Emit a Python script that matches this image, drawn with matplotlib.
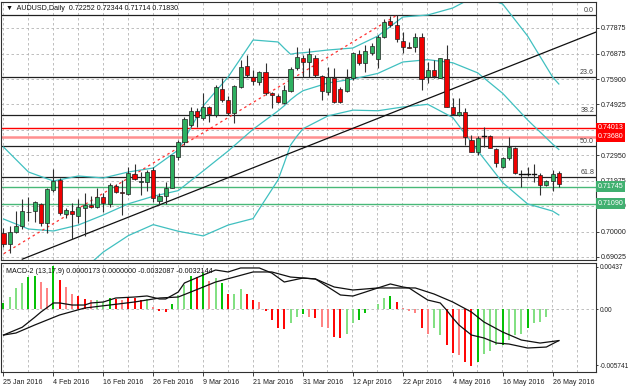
import matplotlib
matplotlib.use('Agg')
import matplotlib.pyplot as plt
import numpy as np
import pandas as pd

plt.rcParams['font.family'] = ['Liberation Sans', 'DejaVu Sans']

# AUDUSD daily bars, 25 Jan 2016 .. 27 May 2016
dates = pd.bdate_range('2016-01-25', periods=90)
opens = [0.6996, 0.6953, 0.6999, 0.7022, 0.7078, 0.7080, 0.7106, 0.7035, 0.7161, 0.7200,
         0.7067, 0.7081, 0.7061, 0.7091, 0.7103, 0.7097, 0.7136, 0.7106, 0.7177, 0.7152,
         0.7145, 0.7222, 0.7194, 0.7194, 0.7239, 0.7120, 0.7138, 0.7170, 0.7290, 0.7346,
         0.7413, 0.7468, 0.7438, 0.7483, 0.7451, 0.7551, 0.7509, 0.7460, 0.7561, 0.7640,
         0.7597, 0.7580, 0.7616, 0.7535, 0.7525, 0.7499, 0.7544, 0.7632, 0.7673, 0.7657,
         0.7670, 0.7602, 0.7541, 0.7595, 0.7553, 0.7545, 0.7593, 0.7687, 0.7653, 0.7692,
         0.7666, 0.7751, 0.7814, 0.7799, 0.7738, 0.7715, 0.7713, 0.7751, 0.7597, 0.7625,
         0.7593, 0.7666, 0.7483, 0.7451, 0.7464, 0.7355, 0.7309, 0.7370, 0.7370, 0.7319,
         0.7251, 0.7286, 0.7323, 0.7226, 0.7223, 0.7226, 0.7219, 0.7181, 0.7196, 0.72252]
highs = [0.7015, 0.7022, 0.7080, 0.7125, 0.7134, 0.7120, 0.7110, 0.7168, 0.7241, 0.7207,
         0.7091, 0.7111, 0.7128, 0.7149, 0.7138, 0.7168, 0.7149, 0.7187, 0.7185, 0.7200,
         0.7249, 0.7261, 0.7232, 0.7239, 0.7251, 0.7149, 0.7193, 0.7297, 0.7355, 0.7445,
         0.7483, 0.7477, 0.7535, 0.7486, 0.7567, 0.7593, 0.7525, 0.7567, 0.7664, 0.7683,
         0.7625, 0.7622, 0.7651, 0.7541, 0.7532, 0.7567, 0.7638, 0.7713, 0.7683, 0.7709,
         0.7683, 0.7606, 0.7638, 0.7632, 0.7561, 0.7628, 0.7696, 0.7702, 0.7722, 0.7728,
         0.7760, 0.7821, 0.7834, 0.7836, 0.7773, 0.7732, 0.7767, 0.7767, 0.7657, 0.7664,
         0.7673, 0.7722, 0.7516, 0.7516, 0.7477, 0.7374, 0.7370, 0.7404, 0.7374, 0.7323,
         0.7290, 0.7367, 0.7329, 0.7239, 0.7251, 0.7262, 0.7226, 0.7200, 0.7239, 0.72344]
lows = [0.6942, 0.6918, 0.6995, 0.7010, 0.7043, 0.7039, 0.7022, 0.6996, 0.7155, 0.7064,
        0.7054, 0.6972, 0.7033, 0.6984, 0.7092, 0.7092, 0.7078, 0.7097, 0.7150, 0.7065,
        0.7142, 0.7200, 0.7142, 0.7159, 0.7116, 0.7103, 0.7107, 0.7168, 0.7277, 0.7335,
        0.7406, 0.7406, 0.7432, 0.7425, 0.7445, 0.7503, 0.7451, 0.7421, 0.7554, 0.7599,
        0.7567, 0.7567, 0.7528, 0.7477, 0.7499, 0.7494, 0.7541, 0.7625, 0.7599, 0.7599,
        0.7599, 0.7509, 0.7528, 0.7496, 0.7499, 0.7541, 0.7586, 0.7644, 0.7619, 0.7683,
        0.7632, 0.7749, 0.7790, 0.7733, 0.7692, 0.7709, 0.7696, 0.7548, 0.7576, 0.7595,
        0.7593, 0.7481, 0.7450, 0.7447, 0.7335, 0.7308, 0.7297, 0.7329, 0.7323, 0.7251,
        0.7245, 0.7277, 0.7223, 0.7174, 0.7215, 0.7193, 0.7142, 0.7177, 0.7159, 0.71714]
closes = [0.6953, 0.6999, 0.7022, 0.7081, 0.7076, 0.7114, 0.7033, 0.7165, 0.7195, 0.7071,
          0.7084, 0.7069, 0.7097, 0.7103, 0.7097, 0.7133, 0.7110, 0.7181, 0.7155, 0.7149,
          0.7226, 0.7203, 0.7196, 0.7232, 0.7129, 0.7138, 0.7170, 0.7297, 0.7348, 0.7435,
          0.7468, 0.7442, 0.7483, 0.7454, 0.7561, 0.7509, 0.7460, 0.7563, 0.7638, 0.7606,
          0.7584, 0.7616, 0.7535, 0.7527, 0.7503, 0.7548, 0.7630, 0.7676, 0.7657, 0.7686,
          0.7606, 0.7545, 0.7599, 0.7503, 0.7503, 0.7593, 0.7690, 0.7651, 0.7700, 0.7718,
          0.7751, 0.7812, 0.7799, 0.7744, 0.7715, 0.7709, 0.7751, 0.7589, 0.7625, 0.7603,
          0.7670, 0.7483, 0.7454, 0.7464, 0.7367, 0.7309, 0.7361, 0.7369, 0.7323, 0.7267,
          0.7286, 0.7326, 0.7226, 0.7225, 0.7222, 0.7225, 0.7181, 0.7196, 0.7223, 0.71830]

# Bollinger bands (20, 2)
bb_bars = [0, 4, 8, 12, 16, 20, 24, 28, 32, 36, 40, 44, 45, 46, 47, 48, 52, 56, 60, 64, 68, 72, 76,
           80, 84, 88, 89]
bb_upper = [0.73275, 0.72309, 0.71962, 0.72155, 0.72078, 0.72309, 0.72464, 0.73159, 0.74860, 0.75980,
            0.77410, 0.77334, 0.77090, 0.76860, 0.76901, 0.76916, 0.77023, 0.77101, 0.77564, 0.78299,
            0.78376, 0.78646, 0.79149, 0.78801, 0.77564, 0.75980, 0.75710]
bb_mid = [0.70493, 0.70107, 0.70030, 0.70261, 0.70648, 0.7108, 0.7137, 0.7159, 0.7235, 0.7312,
          0.7396, 0.7467, 0.7487, 0.7510, 0.7529, 0.7545, 0.7575, 0.7590, 0.7612, 0.7656,
          0.7665, 0.7653, 0.7614, 0.7535, 0.7432, 0.7339, 0.7318]
bb_lower = [0.67711, 0.67905, 0.68098, 0.68367, 0.69218, 0.69851, 0.70276, 0.70021, 0.6984, 0.7026,
            0.7051, 0.72004, 0.72658, 0.73348, 0.73685, 0.73980, 0.74477, 0.74699, 0.74676, 0.74821,
            0.74924, 0.74414, 0.73131, 0.71899, 0.71076, 0.7080, 0.7065]

# fibonacci swing (low 15 Jan, high 21 Apr)
fib_low, fib_high = 0.6827, 0.7836
fib_low_bar, fib_high_bar = -6, 63
fib_pcts = [0.0, 23.6, 38.2, 50.0, 61.8]

# trend line anchors (bar, price)
trend_bars = [3, 95]
trend_prices = [0.6894, 0.7772]

red_levels = [0.74013, 0.73680]
green_levels = [0.71745, 0.71090]
price_ticks = [0.77875, 0.76875, 0.75900, 0.74925, 0.73950, 0.72950, 0.71975, 0.71000, 0.70000, 0.69025]
hidden_ticks = [0.73950]  # sits under the red level labels

# MACD-2 (13,17,9)
hist = [0.0006, 0.0013, 0.00215, 0.0027, 0.0033, 0.0034, 0.0028, 0.0022, 0.0044, 0.0030,
        0.0023, 0.0016, 0.0014, 0.0011, 0.0010, 0.0010, 0.0007, 0.0012, 0.0011, 0.0010,
        0.0013, 0.0012, 0.0010, 0.0011, 0.0002, -0.0002, -0.0003, 0.0005, 0.0015, 0.0025,
        0.0034, 0.0033, 0.0037, 0.0029, 0.0032, 0.0027, 0.0016, 0.0016, 0.0021, 0.0016,
        0.0010, 0.0008, -0.0002, -0.0011, -0.0019, -0.0020, -0.0014, -0.0008, -0.0005, -0.0008,
        -0.0009, -0.0018, -0.0019, -0.0028, -0.0029, -0.0025, -0.0014, -0.0011, -0.0004, 0.0000,
        0.0005, 0.0012, 0.0014, 0.0007, 0.0001, -0.0002, -0.0004, -0.0019, -0.0025, -0.0019,
        -0.0026, -0.0037, -0.0045, -0.0047, -0.0054, -0.0058, -0.0054, -0.0046, -0.0043, -0.0037,
        -0.0037, -0.0031, -0.0026, -0.0025, -0.0019, -0.0014, -0.0013, -0.0008, 0.00005, 0.0000173]
hist_col = 'GgggGGrrGRrrRRrggGRrRRRgrRRGggGRGrgGRggRRrRRRRggGrRrrRRggGGgggGRrrrRrggRRrRRGgggGgggGgggg'

macd_bars = [0, 3, 5, 6, 8, 9, 11, 13, 14, 16, 18, 21, 23, 25, 26, 28, 29, 32, 34, 36, 38, 41, 43, 45,
             48, 50, 52, 54, 56, 58, 60, 62, 64, 65, 66, 68, 70, 71, 72, 73, 75, 77, 79, 81, 84, 87, 89]
macd_main = [-0.00264, -0.00184, -0.00082, -0.00028, 0.00065, 0.00065, 0.00044, 0.00044, 0.00065, 0.00075,
             0.00116, 0.00126, 0.00137, 0.00106, 0.00106, 0.00177, 0.0027, 0.00352, 0.00403, 0.00383,
             0.00424, 0.00424, 0.00372, 0.0028, 0.00321, 0.00311, 0.00229, 0.00147, 0.00136, 0.00177,
             0.00219, 0.0026, 0.00229, 0.00219, 0.00177, 0.00095, 0.00065, -0.00007, -0.00089, -0.00161,
             -0.00264, -0.00294, -0.00346, -0.00356, -0.00397, -0.00387, -0.00321]
signal_bars = [0, 2, 5, 9, 13, 17, 21, 25, 28, 30, 34, 37, 40, 43, 46, 50, 53, 56, 60, 63, 66, 69,
               72, 75, 77, 80, 83, 86, 89]
macd_signal = [-0.00264, -0.00243, -0.00161, -0.00058, 0.00013, 0.00044, 0.00075, 0.00116, 0.00126, 0.00177,
               0.0028, 0.00331, 0.00383, 0.00383, 0.00331, 0.00311, 0.00229, 0.00198, 0.00219, 0.00219,
               0.00219, 0.00157, 0.00075, -0.00028, -0.0013, -0.00233, -0.00315, -0.00346, -0.00321]

W, H = 630, 388
fig = plt.figure(figsize=(W / 100, H / 100), dpi=100)
ax = fig.add_axes([1 / W, (H - 260) / H, 595 / W, 258 / H])
axm = fig.add_axes([1 / W, (H - 372) / H, 595 / W, 109 / H])

n = len(dates)
idx = np.arange(n)
xmin, xmax = -0.4, 94.96
fs = 5.1
grid_kw = dict(color='#b4b4b4', lw=0.6, ls=(0, (3, 3)), zorder=0)

# ---- price panel ----
for a in (ax, axm):
    for b in range(0, 96, 4):
        a.axvline(b - 0.08, **grid_kw)
for p in price_ticks:
    ax.axhline(p, **grid_kw)

# bollinger
for band in (bb_upper, bb_mid, bb_lower):
    ax.plot(bb_bars, band, color='#40c0c0', lw=0.9, zorder=2)

# fibo levels and dashed swing line
rng = fib_high - fib_low
for pct in fib_pcts:
    lvl = fib_high - rng * pct / 100
    ax.axhline(lvl, color='#202020', lw=0.9, zorder=1)
    ax.text(xmax - 0.3, lvl + 0.0004, f'{pct:.1f}', ha='right', va='bottom',
            fontsize=fs, color='#404040', zorder=6)
ax.plot([fib_low_bar, fib_high_bar], [fib_low, fib_high], color='#ff3030',
        lw=0.9, ls=(0, (2, 2.5)), zorder=2)
ax.plot(trend_bars, trend_prices, color='#101010', lw=0.9, zorder=2)

ax.axhline(red_levels[0], color='#ff0000', lw=1.0, zorder=1)
ax.axhline(red_levels[1], color='#ff9090', lw=1.8, zorder=1)
for g in green_levels:
    ax.axhline(g, color='#48b878', lw=1.0, zorder=1)

# candles
o = np.array(opens); c = np.array(closes)
ax.vlines(idx, lows, highs, color='#303030', lw=0.8, zorder=3)
for i in range(n):
    if abs(c[i] - o[i]) < 0.00015:
        ax.plot([i - 0.35, i + 0.35], [c[i], c[i]], color='#101010', lw=1.0, zorder=4)
    else:
        col = '#2eb060' if c[i] > o[i] else '#f00000'
        ax.bar(i, c[i] - o[i], bottom=o[i], width=0.66, color=col,
               edgecolor='#202020', linewidth=0.5, zorder=4)

ax.set_xlim(xmin, xmax)
ax.set_ylim(0.68909, 0.78878)
ax.yaxis.tick_right()
ax.set_yticks(price_ticks)
ax.set_yticklabels(['' if p in hidden_ticks else f'{p:.5f}' for p in price_ticks])
ax.tick_params(axis='y', labelsize=fs, length=2, width=0.6, pad=1.5, colors='#202020')
ax.set_xticks([])

for p, lab in zip(red_levels, ['0.74013', '0.73680']):
    ax.text(1.003, p, lab, transform=ax.get_yaxis_transform(), ha='left', va='center',
            fontsize=fs, color='white', zorder=10, clip_on=False,
            bbox=dict(boxstyle='square,pad=0.25', fc='#ff0000', ec='none'))
for p, lab in zip(green_levels, ['0.71745', '0.71090']):
    ax.text(1.003, p, lab, transform=ax.get_yaxis_transform(), ha='left', va='center',
            fontsize=fs, color='white', zorder=10, clip_on=False,
            bbox=dict(boxstyle='square,pad=0.25', fc='#40b070', ec='none'))

ax.text(0.008, 0.988, '\u25BC  AUDUSD,Daily  0.72252 0.72344 0.71714 0.71830',
        transform=ax.transAxes, ha='left', va='top', fontsize=fs, color='#101010')

# ---- MACD panel ----
axm.axhline(0, **grid_kw)
colmap = {'G': '#00c000', 'g': '#80e080', 'R': '#ff0000', 'r': '#ff8080'}
axm.vlines(idx, 0, hist, colors=[colmap[k] for k in hist_col], lw=1.4, zorder=2)
axm.plot(macd_bars, macd_main, color='#101010', lw=0.9, zorder=3)
axm.plot(signal_bars, macd_signal, color='#101010', lw=0.9, zorder=3)
axm.set_xlim(xmin, xmax)
axm.set_ylim(-0.00643, 0.00475)
axm.yaxis.tick_right()
axm.set_yticks([0.00437, 0.0, -0.005741])
axm.set_yticklabels(['0.00437', '0.00', '-0.005741'])
axm.tick_params(axis='y', labelsize=4.7, length=1.5, width=0.6, pad=1, colors='#202020')
tick_bars = list(range(0, 89, 8))
axm.set_xticks(tick_bars)
axm.set_xticklabels([f'{d.day} {d.strftime("%b %Y")}' for d in dates[tick_bars]], ha='left')
axm.tick_params(axis='x', labelsize=fs, length=3, width=0.6, pad=2, colors='#202020')
axm.text(0.008, 0.95, 'MACD-2 (13,17,9) 0.0000173 0.0000000 -0.0032087 -0.0032144',
         transform=axm.transAxes, ha='left', va='top', fontsize=fs, color='#101010')

for a in (ax, axm):
    for s in a.spines.values():
        s.set_color('#303030')
        s.set_linewidth(0.8)

fig.savefig('out.png', dpi=100)
